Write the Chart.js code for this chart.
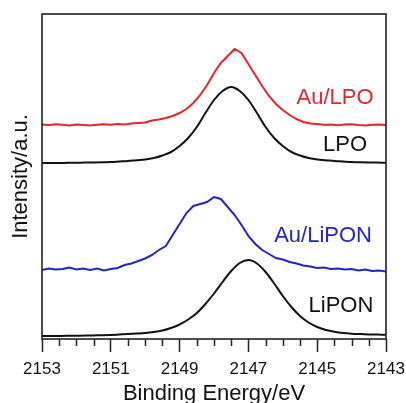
<!DOCTYPE html>
<html>
<head>
<meta charset="utf-8">
<script src="https://cdn.jsdelivr.net/npm/chart.js@4/dist/chart.umd.min.js"></script>
<style>
  html, body { margin: 0; padding: 0; background: #fff; }
  #wrap { width: 406px; height: 403px; }
</style>
</head>
<body>
<div id="wrap"><canvas id="c" width="406" height="403"></canvas></div>
<script>
// ---- data (binding energy in eV, intensity in arbitrary units) ----
const smoothEnergy = [2153.00, 2152.75, 2152.50, 2152.25, 2152.00, 2151.75, 2151.50, 2151.25, 2151.00, 2150.75,
  2150.50, 2150.25, 2150.00, 2149.75, 2149.50, 2149.25, 2149.00, 2148.75, 2148.50, 2148.25,
  2148.00, 2147.75, 2147.50, 2147.25, 2147.00, 2146.75, 2146.50, 2146.25, 2146.00, 2145.75,
  2145.50, 2145.25, 2145.00, 2144.75, 2144.50, 2144.25, 2144.00, 2143.75, 2143.50, 2143.25, 2143.00];

const lpoIntensity = [176.0, 176.0, 176.0, 176.2, 176.3, 176.4, 176.5, 176.7, 177.0, 177.5,
  178.0, 178.8, 179.5, 181.0, 183.5, 187.0, 193.0, 201.0, 212.0, 226.0,
  239.0, 248.0, 252.0, 248.0, 239.0, 226.0, 212.0, 201.0, 193.0, 187.0,
  183.5, 181.0, 179.5, 178.8, 178.0, 177.5, 177.0, 176.7, 176.5, 176.4, 176.3];

const liponIntensity = [3.0, 3.0, 3.1, 3.2, 3.3, 3.4, 3.6, 3.8, 4.1, 4.5,
  4.9, 5.4, 6.0, 7.0, 8.5, 11.0, 14.5, 19.5, 26.0, 35.0,
  45.5, 57.0, 68.0, 76.0, 79.0, 75.5, 67.0, 55.5, 43.0, 32.0,
  23.0, 16.5, 12.0, 9.0, 7.2, 6.0, 5.3, 4.9, 4.6, 4.4, 4.2];

const noisyEnergy = [2153.0, 2152.8, 2152.6, 2152.4, 2152.2, 2152.0, 2151.8, 2151.6, 2151.4, 2151.2,
  2151.0, 2150.8, 2150.6, 2150.4, 2150.2, 2150.0, 2149.8, 2149.6, 2149.4, 2149.2,
  2149.0, 2148.8, 2148.6, 2148.4, 2148.2, 2148.0, 2147.8, 2147.6, 2147.4, 2147.2,
  2147.0, 2146.8, 2146.6, 2146.4, 2146.2, 2146.0, 2145.8, 2145.6, 2145.4, 2145.2,
  2145.0, 2144.8, 2144.6, 2144.4, 2144.2, 2144.0, 2143.8, 2143.6, 2143.4, 2143.2, 2143.0];

const auLpoIntensity = [214.5, 214.0, 214.8, 214.2, 213.6, 214.4, 214.0, 213.5, 214.3, 214.8,
  214.2, 215.0, 214.6, 215.4, 216.0, 216.5, 218.5, 219.5, 221.0, 223.0,
  226.0, 230.0, 236.0, 244.0, 254.0, 266.0, 276.0, 283.0, 290.0, 286.0,
  275.0, 264.0, 253.0, 243.0, 235.0, 229.0, 224.0, 220.0, 217.0, 215.5,
  215.0, 214.2, 214.6, 213.8, 214.4, 214.8, 214.0, 213.6, 214.2, 214.6, 214.0];

const auLiponIntensity = [69.0, 70.5, 69.5, 70.0, 71.5, 69.5, 70.5, 69.0, 70.5, 68.5,
  70.0, 71.0, 74.0, 75.5, 78.0, 80.5, 84.0, 89.0, 93.0, 104.0,
  115.0, 126.0, 133.0, 135.0, 137.0, 142.0, 140.0, 132.0, 124.0, 114.0,
  103.0, 95.0, 89.0, 85.0, 81.0, 79.5, 77.0, 75.5, 73.5, 72.5,
  71.0, 71.5, 70.0, 70.5, 69.5, 70.0, 68.5, 69.5, 68.0, 68.5, 67.5];

const seriesNames = ['Au/LPO', 'LPO', 'Au/LiPON', 'LiPON'];
const seriesColors = ['#e2252f', '#111111', '#2323c8', '#111111'];
const labelEnergy = [2144.48, 2144.19, 2144.83, 2144.31];
const labelIntensity = [241.5, 194, 103.5, 33.5];

const xMin = 2143, xMax = 2153, xStep = 0.5, xMajorEvery = 2;
const yMin = 0, yMax = 325;

const FONT = "'Liberation Sans', Arial, sans-serif";

function toPoints(xs, ys) { return xs.map((x, i) => ({ x: x, y: ys[i] })); }
function isMajor(v) { return Math.abs(((v - xMin) / xMajorEvery) - Math.round((v - xMin) / xMajorEvery)) < 1e-6; }

const framePlugin = {
  id: 'frameAndExtras',
  afterDraw(chart) {
    const ctx = chart.ctx;
    const a = chart.chartArea;
    const xs = chart.scales.x, ys = chart.scales.y;
    ctx.save();
    // minor ticks
    ctx.strokeStyle = '#222';
    ctx.lineWidth = 1.5;
    for (let v = xMin; v <= xMax + 1e-9; v += xStep) {
      if (isMajor(v)) continue;
      const px = Math.round(xs.getPixelForValue(v)) + 0.5;
      ctx.beginPath();
      ctx.moveTo(px, a.bottom);
      ctx.lineTo(px, a.bottom + 7);
      ctx.stroke();
    }
    // frame
    ctx.strokeStyle = '#222';
    ctx.lineWidth = 1.6;
    ctx.strokeRect(a.left, a.top, a.right - a.left, a.bottom - a.top);
    // series labels
    ctx.font = '22px ' + FONT;
    ctx.textAlign = 'center';
    ctx.textBaseline = 'middle';
    seriesNames.forEach((name, i) => {
      ctx.fillStyle = seriesColors[i];
      ctx.fillText(name, xs.getPixelForValue(labelEnergy[i]), ys.getPixelForValue(labelIntensity[i]));
    });
    ctx.restore();
  }
};

new Chart(document.getElementById('c'), {
  type: 'line',
  data: {
    datasets: [
      { label: seriesNames[0], data: toPoints(noisyEnergy, auLpoIntensity), borderColor: seriesColors[0], borderWidth: 2, pointRadius: 0, tension: 0 },
      { label: seriesNames[1], data: toPoints(smoothEnergy, lpoIntensity), borderColor: seriesColors[1], borderWidth: 2, pointRadius: 0, cubicInterpolationMode: 'monotone' },
      { label: seriesNames[2], data: toPoints(noisyEnergy, auLiponIntensity), borderColor: seriesColors[2], borderWidth: 2, pointRadius: 0, tension: 0 },
      { label: seriesNames[3], data: toPoints(smoothEnergy, liponIntensity), borderColor: seriesColors[3], borderWidth: 2, pointRadius: 0, cubicInterpolationMode: 'monotone' }
    ]
  },
  options: {
    responsive: false,
    animation: false,
    events: [],
    layout: { padding: { top: 14, right: 20, left: 0, bottom: 0 } },
    plugins: { legend: { display: false }, tooltip: { enabled: false } },
    scales: {
      x: {
        type: 'linear',
        reverse: true,
        min: xMin,
        max: xMax,
        border: { display: false },
        grid: {
          drawOnChartArea: false,
          drawTicks: true,
          tickLength: 13,
          tickWidth: 1.5,
          tickColor: (c) => (c.tick && isMajor(c.tick.value)) ? '#222' : 'rgba(0,0,0,0)'
        },
        ticks: {
          stepSize: xStep,
          autoSkip: false,
          maxRotation: 0,
          padding: 0,
          color: '#111',
          font: { family: FONT, size: 17, lineHeight: 2.0 },
          callback: (v) => isMajor(v) ? String(Math.round(v)) : ''
        },
        title: {
          display: true,
          text: 'Binding Energy/eV',
          color: '#111',
          font: { family: FONT, size: 22, lineHeight: 0.8 },
          padding: { top: 0, bottom: 0 }
        },
        afterFit: (s) => { s.height = 64; }
      },
      y: {
        min: yMin,
        max: yMax,
        border: { display: false },
        grid: { display: false, drawTicks: false },
        ticks: { display: false },
        title: {
          display: true,
          text: 'Intensity/a.u.',
          color: '#111',
          font: { family: FONT, size: 22 },
          padding: { top: 8, bottom: 0 }
        },
        afterFit: (s) => { s.width = 42; }
      }
    }
  },
  plugins: [framePlugin]
});
</script>
</body>
</html>
